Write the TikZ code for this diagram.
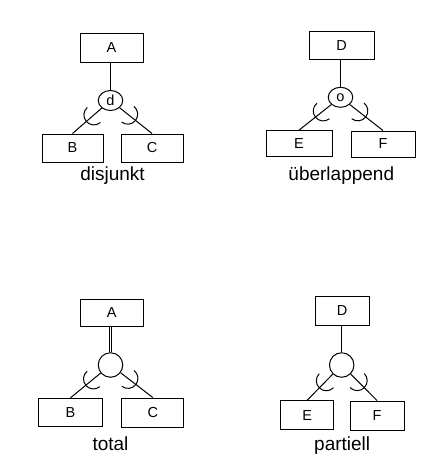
\documentclass[tikz,border=0pt]{standalone}
\usepackage{fontspec}
\setmainfont{Liberation Sans}
\usetikzlibrary{calc,shapes.geometric}
\newcommand\subsetarc[2]{%
  \draw[conn] let \p1=($(#2)-(#1)$), \n1={atan2(\y1,\x1)} in
    ($(#1)!22pt!(#2)$) ++(\n1-90:10pt) arc[start angle=\n1-90, end angle=\n1+90, radius=10pt];}
\tikzset{
  conn/.style={line width=1pt, black},
  ent/.style={draw, line width=1pt, inner sep=0pt, font=\fontsize{14.5}{16}\selectfont},
  spec/.style={draw, ellipse, line width=1pt, inner sep=0pt, minimum width=24.5pt, minimum height=20pt, font=\fontsize{14.5}{16}\selectfont},
  specc/.style={draw, circle, line width=1pt, inner sep=0pt, minimum size=24.5pt},
  lbl/.style={anchor=base, inner sep=0pt, font=\fontsize{19}{22}\selectfont}
}
\begin{document}
\begin{tikzpicture}[x=1pt,y=-1pt]
\useasboundingbox (0,0) rectangle (447,472);
% top-left: disjunkt
\node[ent, minimum width=63pt, minimum height=28.5pt] (A1) at (111.5,48) {A};
\node[spec] (d1) at (110.5,100.5) {d};
\node[ent, minimum width=61pt, minimum height=28pt] (B1) at (72.5,148) {B};
\node[ent, minimum width=62pt, minimum height=28pt] (C1) at (152,148) {C};
\node[lbl] (L1) at (112.5,180.7) {disjunkt};
\draw[conn] (d1.north |- A1.south) -- (d1.north);
\draw[conn] (d1) -- (B1.north);
\draw[conn] (d1) -- (C1.north);
\subsetarc{d1}{B1.north}
\subsetarc{d1}{C1.north}
% top-right: ueberlappend
\node[ent, minimum width=65pt, minimum height=27.5pt] (D1) at (341.5,45.7) {D};
\node[spec] (o1) at (340.5,97.3) {o};
\node[ent, minimum width=66pt, minimum height=26.3pt] (E1) at (299,143.8) {E};
\node[ent, minimum width=64pt, minimum height=26pt] (F1) at (383,144) {F};
\node[lbl] (L2) at (341.3,180) {überlappend};
\draw[conn] (o1.north |- D1.south) -- (o1.north);
\draw[conn] (o1) -- (E1.north);
\draw[conn] (o1) -- (F1.north);
\subsetarc{o1}{E1.north}
\subsetarc{o1}{F1.north}
% bottom-left: total
\node[ent, minimum width=63pt, minimum height=27pt] (A2) at (111.7,312.7) {A};
\node[specc] (c2) at (110.5,365) {};
\node[ent, minimum width=64.4pt, minimum height=28.4pt] (B2) at (70.5,412.5) {B};
\node[ent, minimum width=62.3pt, minimum height=29pt] (C2) at (152.8,412.5) {C};
\node[lbl] (L3) at (110.5,450.5) {total};
\draw[conn, double, double distance=1.8pt] (c2.north |- A2.south) -- (c2.north);
\draw[conn] (c2) -- (B2.north);
\draw[conn] (c2) -- (C2.north);
\subsetarc{c2}{B2.north}
\subsetarc{c2}{C2.north}
% bottom-right: partiell
\node[ent, minimum width=54pt, minimum height=29pt] (D2) at (342.2,310.5) {D};
\node[specc] (c4) at (341.7,365) {};
\node[ent, minimum width=53.3pt, minimum height=29.3pt] (E2) at (307.3,415.3) {E};
\node[ent, minimum width=54pt, minimum height=29pt] (F2) at (377,415.5) {F};
\node[lbl] (L4) at (342.2,450.7) {partiell};
\draw[conn] (c4.north |- D2.south) -- (c4.north);
\draw[conn] (c4) -- (E2.north);
\draw[conn] (c4) -- (F2.north);
\subsetarc{c4}{E2.north}
\subsetarc{c4}{F2.north}
\end{tikzpicture}
\end{document}
